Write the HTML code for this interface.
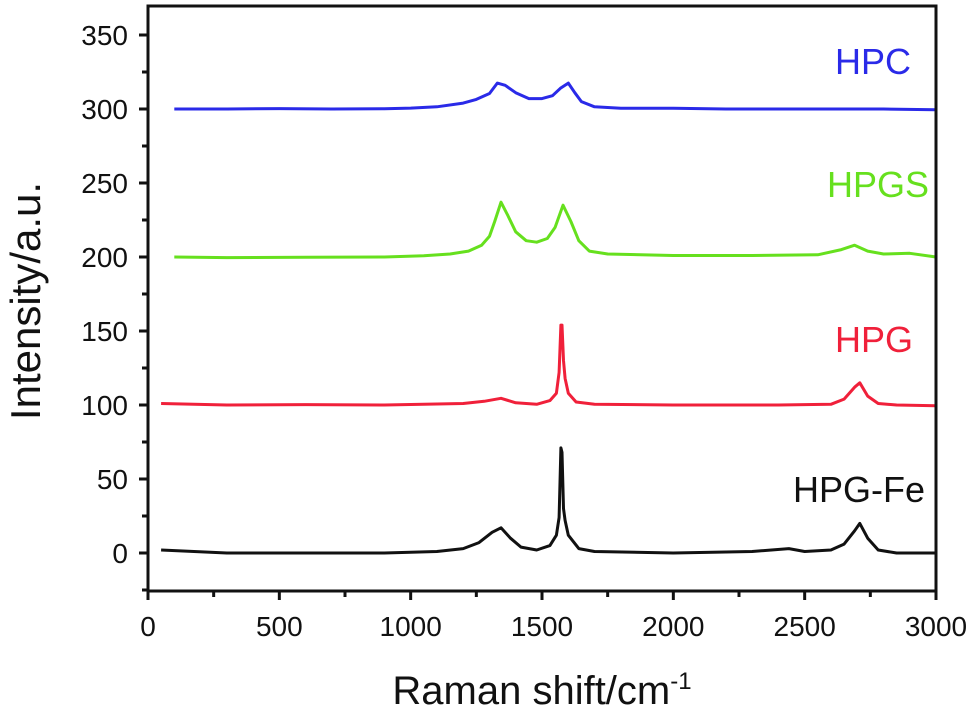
<!DOCTYPE html>
<html><head><meta charset="utf-8">
<style>
html,body{margin:0;padding:0;background:#fff;}
svg{display:block;font-family:"Liberation Sans",Arial,sans-serif;}
</style></head>
<body>
<svg id="chart" width="977" height="713" viewBox="0 0 977 713">
  <g id="series"></g>
  <g id="axes"></g>
  <text x="835" y="74" font-size="36" fill="#2a2ae8">HPC</text>
  <text x="827" y="197" font-size="36" fill="#66e01e">HPGS</text>
  <text x="835" y="352" font-size="36" fill="#f0203a">HPG</text>
  <text x="793" y="502" font-size="36" fill="#111">HPG-Fe</text>
  <text x="542" y="704" font-size="40" text-anchor="middle" fill="#111">Raman shift/cm<tspan dy="-15" font-size="24">-1</tspan></text>
  <text transform="translate(40,301) rotate(-90)" font-size="42" text-anchor="middle" fill="#111">Intensity/a.u.</text>
</svg>
<script>
const xTicks = [0,500,1000,1500,2000,2500,3000];
const yTicks = [0,50,100,150,200,250,300,350];

const hpcShift = [100,300,500,700,900,1000,1100,1200,1250,1300,1330,1360,1400,1450,1500,1540,1570,1600,1625,1650,1700,1800,2000,2200,2500,2800,3000];
const hpcInt = [300,300,300.3,300,300.2,300.6,301.5,304,306.5,310.5,317.5,316,311,307,307,309,314,317.5,311,305,301.5,300.5,300.5,300,300,300,299.5];

const hpgsShift = [100,300,600,900,1050,1150,1220,1270,1300,1320,1344,1370,1400,1440,1480,1520,1550,1580,1610,1640,1680,1750,2000,2300,2550,2640,2690,2740,2800,2900,3000];
const hpgsInt = [200,199.6,199.8,200,200.8,202,204,208,214,224,237,228,217,211,210,212.5,220,235,224,211,204,202,201,201,201.5,205,208,204,202,202.5,200];

const hpgShift = [50,300,600,900,1200,1280,1344,1400,1480,1530,1555,1565,1572,1576,1582,1588,1600,1630,1700,2000,2400,2600,2650,2690,2710,2740,2780,2850,3000];
const hpgInt = [101,100,100.3,100,101,102.5,104.5,101.5,100.5,103,108,122,154,154,130,118,108,102,100.5,100,100,100.5,104,112,115,106,101,100,99.5];

const feShift = [50,300,600,900,1100,1200,1260,1310,1344,1380,1420,1480,1530,1555,1565,1572,1576,1582,1588,1600,1640,1700,2000,2300,2440,2500,2600,2650,2690,2710,2740,2780,2850,3000];
const feInt = [2,0,0,0,1,3,7,14,17,10,4,2,5,12,24,71,68,30,22,12,3,1,0,1,3,1,2,6,15,20,10,2,0,0];

const NS = "http://www.w3.org/2000/svg";
const X0 = 148, X1 = 936, Y0 = 553, PPU = 1.48;
function xs(v){ return X0 + v*(X1-X0)/3000; }
function ys(v){ return Y0 - v*PPU; }
const yBottom = 591, yTop = 6;

const sg = document.getElementById('series');
function drawSeries(sh, it, color, name){
  const p = document.createElementNS(NS,'path');
  let d = '';
  for(let i=0;i<sh.length;i++){ d += (i?'L':'M') + xs(sh[i]).toFixed(1) + ',' + ys(it[i]).toFixed(1); }
  p.setAttribute('d', d);
  p.setAttribute('fill','none');
  p.setAttribute('stroke',color);
  p.setAttribute('stroke-width','3');
  p.setAttribute('stroke-linejoin','round');
  
  
  sg.appendChild(p);
}
drawSeries(hpcShift, hpcInt, '#2a2ae8', 'series-hpc');
drawSeries(hpgsShift, hpgsInt, '#66e01e', 'series-hpgs');
drawSeries(hpgShift, hpgInt, '#f0203a', 'series-hpg');
drawSeries(feShift, feInt, '#111', 'series-hpg-fe');

const ag = document.getElementById('axes');
const frame = document.createElementNS(NS,'rect');
frame.setAttribute('x', X0); frame.setAttribute('y', yTop);
frame.setAttribute('width', X1-X0); frame.setAttribute('height', yBottom-yTop);
frame.setAttribute('fill','none'); frame.setAttribute('stroke','#111'); frame.setAttribute('stroke-width','3');


ag.appendChild(frame);

function line(x1,y1,x2,y2,name){
  const l = document.createElementNS(NS,'line');
  l.setAttribute('x1',x1); l.setAttribute('y1',y1); l.setAttribute('x2',x2); l.setAttribute('y2',y2);
  l.setAttribute('stroke','#111'); l.setAttribute('stroke-width','3');
  
  
  ag.appendChild(l);
}
function label(x,y,t,anchor,name){
  const e = document.createElementNS(NS,'text');
  e.setAttribute('x',x); e.setAttribute('y',y); e.setAttribute('font-size','28');
  e.setAttribute('text-anchor',anchor); e.setAttribute('fill','#111');
  e.textContent = t;
  
  
  ag.appendChild(e);
}
xTicks.forEach((v,i)=>{
  line(xs(v), yBottom, xs(v), yBottom+9, 'x-tick');
  label(xs(v), 636, String(v), 'middle', 'x-tick-label');
  if(i < xTicks.length-1){ const m = (v + xTicks[i+1])/2; line(xs(m), yBottom, xs(m), yBottom+6, 'x-minor-tick'); }
});
yTicks.forEach((v,i)=>{
  line(X0-9, ys(v), X0, ys(v), 'y-tick');
  label(128, ys(v)+10, String(v), 'end', 'y-tick-label');
  if(i < yTicks.length-1){ const m = (v + yTicks[i+1])/2; line(X0-6, ys(m), X0, ys(m), 'y-minor-tick'); }
});
line(X0-6, ys(-25), X0, ys(-25), 'y-minor-tick');
</script>
</body></html>
